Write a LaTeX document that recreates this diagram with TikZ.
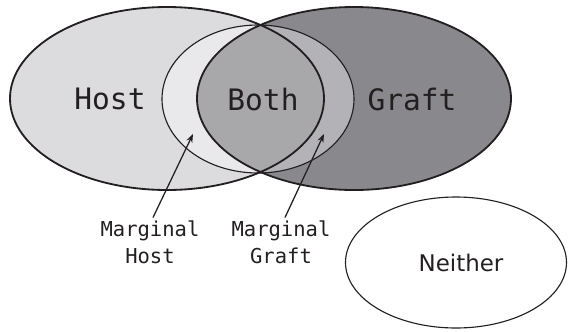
\documentclass[tikz,border=0pt]{standalone}
\usepackage{fontspec}
\newfontfamily\setfont{DejaVu Sans Mono}
\newfontfamily\plainfont{DejaVu Sans}
\usetikzlibrary{arrows.meta, positioning}
\definecolor{inkgray}{RGB}{35,31,32}
\definecolor{hostgray}{RGB}{220,220,222}
\definecolor{marghostgray}{RGB}{233,233,235}
\definecolor{bothgray}{RGB}{168,168,171}
\definecolor{marggraftgray}{RGB}{179,179,183}
\definecolor{graftgray}{RGB}{137,137,141}
\tikzset{
  setlabel/.style={font=\setfont\fontsize{21}{24}\selectfont, text=inkgray, inner sep=0pt, anchor=base},
  marglabel/.style={font=\setfont\fontsize{14.6}{19.2}\selectfont, text=inkgray, inner sep=0pt,
    align=center, anchor=north},
  otherlabel/.style={font=\plainfont\fontsize{16.3}{19}\selectfont, text=inkgray, inner sep=0pt, anchor=base},
  thickline/.style={draw=inkgray, line width=1.3pt},
  thinline/.style={draw=inkgray, line width=0.8pt},
  arr/.style={-{Stealth[length=6pt, width=4.5pt]}, line width=0.9pt, draw=inkgray},
}

\begin{document}
\begin{tikzpicture}[x=0.025cm, y=-0.025cm]
  \useasboundingbox (0,0) rectangle (568,331);

  % Regions
  \fill[hostgray] (167,98.5) ellipse [x radius=157, y radius=91.5];
  \fill[graftgray] (354,98.5) ellipse [x radius=157, y radius=91.5];
  \begin{scope}
    \clip (258,99) ellipse [x radius=96, y radius=74];
    \fill[marghostgray] (167,98.5) ellipse [x radius=157, y radius=91.5];
    \fill[marggraftgray] (354,98.5) ellipse [x radius=157, y radius=91.5];
  \end{scope}
  \begin{scope}
    \clip (167,98.5) ellipse [x radius=157, y radius=91.5];
    \fill[bothgray] (354,98.5) ellipse [x radius=157, y radius=91.5];
  \end{scope}

  % Outlines
  \draw[thinline] (258,99) ellipse [x radius=96, y radius=74];
  \draw[thickline] (167,98.5) ellipse [x radius=157, y radius=91.5];
  \draw[thickline] (354,98.5) ellipse [x radius=157, y radius=91.5];
  \draw[thinline] (456,262.5) ellipse [x radius=110.5, y radius=65.5];

  % Labels
  \node[setlabel] (host) at (110,109) {Host};
  \node[setlabel] (both) at (263,110) {Both};
  \node[setlabel] (graft) at (412,110) {Graft};
  \node[marglabel] (mhost) at (150,220.5) {Marginal\\Host};
  \node[marglabel] (mgraft) at (281,220.5) {Marginal\\Graft};
  \node[otherlabel] (neither) at (461,271) {Neither};

  % Arrows
  \coordinate (mhosttip) at (193,134);
  \coordinate (mgrafttip) at (324,134);
  \draw[arr] ([shift={(3,-3)}]mhost.north) -- (mhosttip);
  \draw[arr] ([shift={(4,-3)}]mgraft.north) -- (mgrafttip);
\end{tikzpicture}
\end{document}
